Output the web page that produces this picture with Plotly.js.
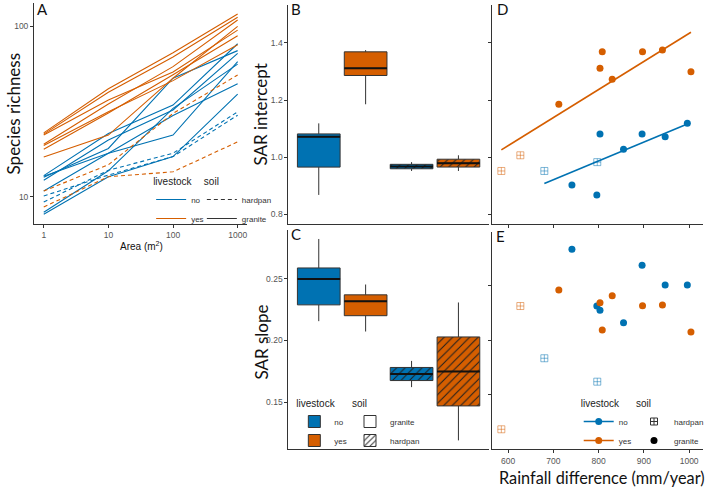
<!DOCTYPE html>
<html><head><meta charset="utf-8">
<script src="https://cdn.plot.ly/plotly-3.0.1.min.js"></script>
<style>html,body{margin:0;padding:0;background:#fff}#chart{width:709px;height:488px}</style>
</head><body><div id="chart"></div>
<script>
// ---------------- DATA ----------------
const areaTicks = [1, 10, 100, 1000];
const siteLivestock = ['no','no','no','no','no','no','no',
  'yes','yes','yes','yes','yes','yes','yes',
  'no','no','yes','yes'];
const siteSoil = ['granite','granite','granite','granite','granite','granite','granite',
  'granite','granite','granite','granite','granite','granite','granite',
  'hardpan','hardpan','hardpan','hardpan'];
const rainfall = [741, 796, 803, 855, 896, 947, 996,
  712, 803, 808, 830, 897, 941, 1004,
  680, 797, 585, 627];
const sarIntercept = [0.902, 0.867, 1.081, 1.027, 1.081, 1.071, 1.118,
  1.185, 1.311, 1.369, 1.273, 1.369, 1.375, 1.299,
  0.951, 0.982, 0.951, 1.006];
const sarSlope = [0.2825, 0.2309, 0.2270, 0.2157, 0.2679, 0.2500, 0.2500,
  0.2455, 0.2339, 0.2091, 0.2403, 0.2312, 0.2318, 0.2073,
  0.1834, 0.1621, 0.1188, 0.2309];
const richness = [
  [8.1, 14.2, 33.0, 60.0],
  [7.9, 13.1, 17.2, 40.0],
  [13.2, 18.0, 23.0, 62.0],
  [10.8, 18.0, 30.0, 46.0],
  [13.0, 19.2, 49.6, 72.0],
  [12.5, 21.5, 32.3, 69.4],
  [13.3, 23.5, 34.5, 79.0],
  [17.1, 23.0, 49.6, 100.0],
  [20.3, 35.0, 58.0, 109.0],
  [23.0, 37.0, 54.0, 95.0],
  [19.0, 31.0, 52.0, 88.0],
  [23.3, 41.0, 66.0, 113.0],
  [23.7, 43.0, 70.0, 118.0],
  [20.0, 31.5, 48.0, 78.0],
  [9.3, 14.3, 18.0, 31.5],
  [10.1, 13.4, 17.2, 30.1],
  [8.7, 13.1, 14.0, 21.0],
  [10.8, 15.4, 30.8, 51.8]
];
const livestockLevels = ['no', 'yes'];
const soilLevels = ['granite', 'hardpan'];
const rainTicks = [600, 700, 800, 900, 1000];
const interceptTicks = [0.8, 1.0, 1.2, 1.4];
const slopeTicks = [0.15, 0.20, 0.25];

// ---------------- STYLE ----------------
const W = 709, H = 488;
const fx = p => p / W, fy = p => 1 - p / H;
const COL = {no: '#0072B2', yes: '#D55E00'};
const SANS = 'Liberation Sans, Arial, sans-serif';
const TITLEF = 'Lato, Open Sans, sans-serif';
const soilPos = {granite: 1, hardpan: 2};
const dodge = 0.2525, boxW = 0.46;

// quantile with linear interpolation of order statistics (same as R type 7 / ggplot)
function quantile(sorted, p) {
  const h = (sorted.length - 1) * p, lo = Math.floor(h), hi = Math.ceil(h);
  return sorted[lo] + (sorted[hi] - sorted[lo]) * (h - lo);
}
function groupIdx(liv, soil) {
  const out = [];
  siteLivestock.forEach((l, i) => { if (l === liv && siteSoil[i] === soil) out.push(i); });
  return out;
}

const traces = [];

// ---------- Panel A ----------
richness.forEach((r, i) => {
  traces.push({
    type: 'scatter', mode: 'lines', x: areaTicks, y: r, xaxis: 'x', yaxis: 'y',
    line: {color: COL[siteLivestock[i]], width: 1.1, dash: siteSoil[i] === 'hardpan' ? '4px,3px' : 'solid'},
    showlegend: false, hoverinfo: 'skip'
  });
});
livestockLevels.forEach(l => traces.push({type: 'scatter', mode: 'lines', x: [null], y: [null], xaxis: 'x', yaxis: 'y',
  name: l, line: {color: COL[l], width: 1.2}, legend: 'legend'}));
['hardpan', 'granite'].forEach(s => traces.push({type: 'scatter', mode: 'lines', x: [null], y: [null], xaxis: 'x', yaxis: 'y',
  name: s, line: {color: '#333', width: 1.2, dash: s === 'hardpan' ? '4px,3px' : 'solid'}, legend: 'legend2'}));

// ---------- Panels B & C (boxplots) ----------
function addBoxes(values, xa, ya) {
  soilLevels.forEach(s => livestockLevels.forEach(l => {
    const idx = groupIdx(l, s);
    const sorted = idx.map(i => values[i]).sort((a, b) => a - b);
    const pos = soilPos[s] + (l === 'no' ? -dodge : dodge);
    const q1 = quantile(sorted, 0.25), med = quantile(sorted, 0.5), q3 = quantile(sorted, 0.75);
    const lo = sorted[0], hi = sorted[sorted.length - 1];
    if (s === 'hardpan') {
      traces.push({type: 'bar', x: [pos], y: [q3 - q1], base: [q1], width: boxW, xaxis: xa, yaxis: ya,
        marker: {color: COL[l], line: {width: 0},
          pattern: {shape: '/', fgcolor: '#1e1e1e', bgcolor: COL[l], size: 6, solidity: 0.17}},
        showlegend: false, hoverinfo: 'skip'});
    }
    traces.push({type: 'box', x: [pos], q1: [q1], median: [med], q3: [q3], lowerfence: [lo], upperfence: [hi],
      width: boxW, xaxis: xa, yaxis: ya, boxpoints: false, whiskerwidth: 0,
      fillcolor: s === 'hardpan' ? 'rgba(0,0,0,0)' : COL[l], line: {color: '#333', width: 1},
      showlegend: false, hoverinfo: 'skip'});
    traces.push({type: 'scatter', mode: 'lines', x: [pos - boxW / 2, pos + boxW / 2], y: [med, med],
      xaxis: xa, yaxis: ya, line: {color: '#111', width: 2}, showlegend: false, hoverinfo: 'skip'});
  }));
}
addBoxes(sarIntercept, 'x2', 'y2');
addBoxes(sarSlope, 'x3', 'y3');
livestockLevels.forEach(l => traces.push({type: 'bar', x: [null], y: [null], xaxis: 'x3', yaxis: 'y3', name: l,
  marker: {color: COL[l], line: {color: '#333', width: 1}}, legend: 'legend3'}));
soilLevels.forEach(s => traces.push({type: 'bar', x: [null], y: [null], xaxis: 'x3', yaxis: 'y3', name: s,
  marker: {color: '#fff', line: {color: '#333', width: 1},
    pattern: s === 'hardpan' ? {shape: '/', fgcolor: '#333', bgcolor: '#fff', size: 5, solidity: 0.25} : {shape: ''}},
  legend: 'legend4'}));

// ---------- Panels D & E (scatter vs rainfall) ----------
function addScatter(values, xa, ya, withFit) {
  livestockLevels.forEach(l => {
    if (withFit) {
      const idx = siteLivestock.map((v, i) => v === l ? i : -1).filter(i => i >= 0);
      const xs = idx.map(i => rainfall[i]), ys = idx.map(i => values[i]);
      const mx = xs.reduce((a, b) => a + b) / xs.length, my = ys.reduce((a, b) => a + b) / ys.length;
      let sxy = 0, sxx = 0;
      xs.forEach((x, k) => { sxy += (x - mx) * (ys[k] - my); sxx += (x - mx) * (x - mx); });
      const b = sxy / sxx, a = my - b * mx;
      const x0 = Math.min(...xs), x1 = Math.max(...xs);
      traces.push({type: 'scatter', mode: 'lines', x: [x0, x1], y: [a + b * x0, a + b * x1], xaxis: xa, yaxis: ya,
        line: {color: COL[l], width: 1.6}, showlegend: false, hoverinfo: 'skip'});
    }
    soilLevels.forEach(s => {
      const idx = groupIdx(l, s);
      traces.push({type: 'scatter', mode: 'markers', x: idx.map(i => rainfall[i]), y: idx.map(i => values[i]),
        xaxis: xa, yaxis: ya, showlegend: false, hoverinfo: 'skip',
        marker: s === 'granite'
          ? {symbol: 'circle', size: 7, color: COL[l]}
          : {symbol: 'square-cross-open', size: 7, color: COL[l], opacity: 0.5, line: {width: 1}}});
    });
  });
}
addScatter(sarIntercept, 'x4', 'y4', true);
addScatter(sarSlope, 'x5', 'y5', false);
livestockLevels.forEach(l => traces.push({type: 'scatter', mode: 'lines+markers', x: [null], y: [null], xaxis: 'x5', yaxis: 'y5',
  name: l, line: {color: COL[l], width: 1.6}, marker: {color: COL[l], size: 7}, legend: 'legend5'}));
['hardpan', 'granite'].forEach(s => traces.push({type: 'scatter', mode: 'markers', x: [null], y: [null], xaxis: 'x5', yaxis: 'y5',
  name: s, marker: s === 'hardpan' ? {symbol: 'square-cross-open', size: 7, color: '#333', line: {width: 1}} : {symbol: 'circle', size: 7, color: '#000'},
  legend: 'legend6'}));

// ---------------- LAYOUT ----------------
function ax(domain, range, extra) {
  return Object.assign({domain: domain, range: range, showline: true, linecolor: '#333', linewidth: 1,
    ticks: 'outside', ticklen: 3, tickwidth: 1, tickcolor: '#333', showgrid: false, zeroline: false,
    tickfont: {family: SANS, size: 8.5, color: '#555'}, fixedrange: true}, extra);
}
const dA = {x: [fx(34.25), fx(248.75)], y: [fy(224), fy(3.3)]};
const dB = {x: [fx(290), fx(491.6)], y: [fy(223.5), fy(5)]};
const dC = {x: [fx(290), fx(491.6)], y: [fy(449), fy(230)]};
const dD = {x: [fx(495), fx(706.7)], y: [fy(223.5), fy(5)]};
const dE = {x: [fx(495), fx(706.7)], y: [fy(449.3), fy(231.7)]};
const interceptRange = [0.7667, 1.5333];

function legendCfg(title, px, py) {
  return {title: {text: title, font: {family: SANS, size: 10, color: '#222'}}, x: fx(px), y: fy(py),
    xanchor: 'left', yanchor: 'top', bgcolor: 'rgba(0,0,0,0)', borderwidth: 0,
    font: {family: SANS, size: 8, color: '#333'}, tracegroupgap: 0, itemclick: false, itemdoubleclick: false};
}
function ann(text, px, py, size, family, angle) {
  return {text: text, x: fx(px), y: fy(py), xref: 'paper', yref: 'paper', showarrow: false,
    xanchor: 'center', yanchor: 'middle', textangle: angle || 0, font: {family: family, size: size, color: '#111'}};
}

const layout = {
  width: W, height: H, margin: {l: 0, r: 0, t: 0, b: 0}, paper_bgcolor: '#fff', plot_bgcolor: 'rgba(0,0,0,0)',
  barmode: 'overlay', boxmode: 'overlay', hovermode: false,
  xaxis: ax(dA.x, [-0.15, 3.15], {type: 'log', anchor: 'y', tickvals: areaTicks, ticktext: areaTicks.map(String)}),
  yaxis: ax(dA.y, [0.84, 2.135], {type: 'log', anchor: 'x', tickvals: [10, 100], ticktext: ['10', '100']}),
  xaxis2: ax(dB.x, [0.42, 2.58], {anchor: 'y2', ticks: '', showticklabels: false}),
  yaxis2: ax(dB.y, interceptRange, {anchor: 'x2', tickvals: interceptTicks, ticktext: interceptTicks.map(v => v.toFixed(1))}),
  xaxis3: ax(dC.x, [0.42, 2.58], {anchor: 'y3', ticks: '', showticklabels: false}),
  yaxis3: ax(dC.y, [0.1118, 0.2898], {anchor: 'x3', tickvals: slopeTicks, ticktext: slopeTicks.map(v => v.toFixed(2))}),
  xaxis4: ax(dD.x, [564.8, 1030], {anchor: 'y4', tickvals: rainTicks, showticklabels: false}),
  yaxis4: ax(dD.y, interceptRange, {anchor: 'x4', tickvals: interceptTicks, showticklabels: false}),
  xaxis5: ax(dE.x, [564.8, 1030], {anchor: 'y5', tickvals: rainTicks, ticktext: rainTicks.map(String)}),
  yaxis5: ax(dE.y, [0.1006, 0.2985], {anchor: 'x5', tickvals: slopeTicks, showticklabels: false}),
  legend: legendCfg('livestock', 152, 172),
  legend2: legendCfg('soil', 203, 172),
  legend3: legendCfg('livestock', 296, 394),
  legend4: legendCfg('soil', 352, 394),
  legend5: legendCfg('livestock', 582, 394),
  legend6: legendCfg('soil', 638, 394),
  annotations: [
    ann('A', 43, 9.5, 15, TITLEF), ann('B', 298, 9.5, 15, TITLEF), ann('C', 298, 234, 15, TITLEF),
    ann('D', 505, 9.5, 15, TITLEF), ann('E', 503, 236, 15, TITLEF),
    ann('Species richness', 14, 113.5, 17, TITLEF, -90),
    ann('SAR intercept', 262, 115, 17, TITLEF, -90),
    ann('SAR slope', 262, 342, 17, TITLEF, -90),
    ann('Area (m<sup>2</sup>)', 142, 246, 10, SANS),
    ann('Rainfall difference (mm/year)', 605, 477, 16.3, TITLEF)
  ]
};

Plotly.newPlot('chart', traces, layout, {displayModeBar: false, staticPlot: true});
</script></body></html>
